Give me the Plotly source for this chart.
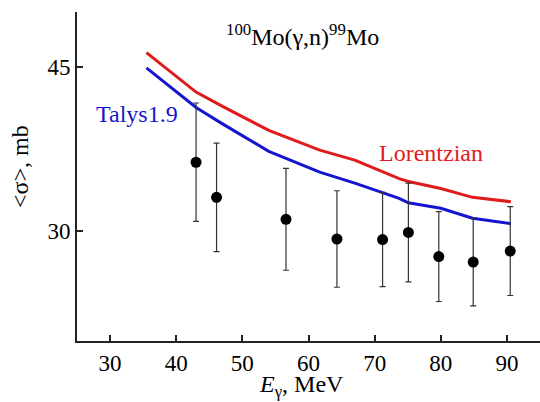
import plotly.graph_objects as go

# Measured photoneutron flux-averaged cross sections, 100Mo(g,n)99Mo
energy = [43.0, 46.1, 56.6, 64.3, 71.2, 75.1, 79.7, 84.9, 90.5]
sigma = [36.3, 33.1, 31.1, 29.3, 29.25, 29.9, 27.7, 27.2, 28.2]
sigma_err = [5.4, 4.95, 4.65, 4.4, 4.3, 4.5, 4.1, 4.0, 4.05]

# Model curves
talys_e = [35.5, 43.0, 47.0, 51.0, 54.0, 61.7, 67.0, 73.7, 75.1, 80.0, 84.8, 90.6]
talys_s = [44.9, 41.3, 39.8, 38.4, 37.3, 35.4, 34.4, 33.0, 32.6, 32.1, 31.2, 30.7]
lor_e = [35.5, 43.0, 47.0, 51.0, 54.0, 61.7, 67.0, 73.7, 75.1, 80.0, 84.8, 90.6]
lor_s = [46.3, 42.7, 41.4, 40.1, 39.2, 37.4, 36.5, 34.8, 34.55, 33.9, 33.1, 32.7]

serif = "Liberation Serif"

fig = go.Figure()
fig.add_trace(go.Scatter(x=lor_e, y=lor_s, mode="lines",
                         line=dict(color="#e01b1b", width=3), showlegend=False))
fig.add_trace(go.Scatter(x=talys_e, y=talys_s, mode="lines",
                         line=dict(color="#1515d0", width=3), showlegend=False))
fig.add_trace(go.Scatter(
    x=energy, y=sigma, mode="markers",
    marker=dict(color="black", size=11),
    error_y=dict(type="data", array=sigma_err, visible=True,
                 color="#333333", thickness=1.2, width=3),
    showlegend=False))

fig.add_annotation(x=34.1, y=40.7, xref="x", yref="y", text="Talys1.9",
                   showarrow=False, font=dict(family=serif, size=24, color="#1515d0"))
fig.add_annotation(x=78.5, y=37.1, xref="x", yref="y", text="Lorentzian",
                   showarrow=False, font=dict(family=serif, size=24, color="#e01b1b"))
fig.add_annotation(x=0.486, y=0.93, xref="paper", yref="paper",
                   text="<sup>100</sup>Mo(γ,n)<sup>99</sup>Mo", showarrow=False,
                   xanchor="center", yanchor="middle",
                   font=dict(family=serif, size=24, color="black"))
# axis titles
fig.add_annotation(x=0.484, y=-45 / 329, xref="paper", yref="paper",
                   text="<i>E</i><sub>γ</sub>, MeV", showarrow=False,
                   xanchor="center", yanchor="middle",
                   font=dict(family=serif, size=24, color="black"))
fig.add_annotation(x=-57 / 463, y=0.529, xref="paper", yref="paper",
                   text="<σ>, mb", showarrow=False, textangle=-90,
                   xanchor="center", yanchor="middle",
                   font=dict(family=serif, size=24, color="black"))

fig.update_layout(
    width=540, height=402,
    margin=dict(l=77, r=0, t=12, b=61),
    paper_bgcolor="white", plot_bgcolor="white",
    font=dict(family=serif, size=23, color="black"),
    xaxis=dict(range=[25, 95], tickvals=[30, 40, 50, 60, 70, 80, 90],
               ticks="inside", ticklen=6, tickwidth=1.5, tickcolor="#222",
               showline=True, linecolor="#222", linewidth=2, showgrid=False,
               zeroline=False, tickfont=dict(family=serif, size=23)),
    yaxis=dict(range=[20, 50], tickvals=[30, 45],
               ticks="inside", ticklen=6, tickwidth=1.5, tickcolor="#222",
               showline=True, linecolor="#222", linewidth=2, showgrid=False,
               zeroline=False, tickfont=dict(family=serif, size=23)),
)

fig.write_html("out.html")
